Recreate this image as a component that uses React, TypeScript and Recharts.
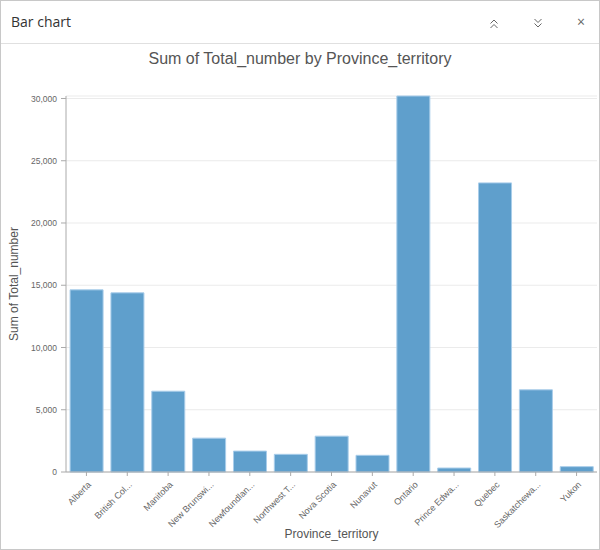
import React from 'react';
import { BarChart, Bar, XAxis, YAxis, CartesianGrid } from 'recharts';

const provinces = [
    'Alberta',
    'British Columbia',
    'Manitoba',
    'New Brunswick',
    'Newfoundland and Labrador',
    'Northwest Territories',
    'Nova Scotia',
    'Nunavut',
    'Ontario',
    'Prince Edward Island',
    'Quebec',
    'Saskatchewan',
    'Yukon',
];
const totals = [14630, 14390, 6490, 2720, 1680, 1420, 2880, 1340, 30200, 320, 23220, 6600, 430];
const yTicks = [0, 5000, 10000, 15000, 20000, 25000, 30000];

const chartData = provinces.map((p, i) => ({ province: p, total: totals[i] }));

// long names are cut to 11 chars like the original widget does
const shorten = (s: string) => (s.length > 11 ? s.slice(0, 11) + '...' : s);

const XTick = ({ x, y, payload }: any) => (
    <g transform={`translate(${x + 3},${y + 5})`}>
        <text x={0} y={0} dy="0.35em" textAnchor="end" transform="rotate(-45)" fontSize={9} fill="#666">
            {shorten(payload.value)}
        </text>
    </g>
);

const Chevrons = ({ up }: { up: boolean }) => (
    <svg width="10" height="12" viewBox="0 0 10 12">
        <path
            d={up ? 'M1.5 5.5 L5 2 L8.5 5.5 M1.5 10 L5 6.5 L8.5 10' : 'M1.5 2 L5 5.5 L8.5 2 M1.5 6.5 L5 10 L8.5 6.5'}
            fill="none"
            stroke="#666"
            strokeWidth="1"
        />
    </svg>
);

export default function App() {
    return (
        <div
            style={{
                position: 'absolute',
                left: 0,
                top: 0,
                width: 600,
                height: 550,
                background: '#fff',
                fontFamily: '"Liberation Sans", Arial, sans-serif',
            }}
        >
            <BarChart
                width={600}
                height={550}
                data={chartData}
                margin={{ top: 96, right: 3, bottom: 0, left: 0 }}
                barCategoryGap="10%"
            >
                <CartesianGrid vertical={false} stroke="#ebebeb" />
                <XAxis
                    dataKey="province"
                    interval={0}
                    height={78}
                    tick={<XTick />}
                    tickSize={4}
                    axisLine={{ stroke: '#aaa' }}
                    tickLine={{ stroke: '#aaa' }}
                    label={{ value: 'Province_territory', position: 'insideBottom', offset: 12, fontSize: 12, fill: '#555' }}
                />
                <YAxis
                    width={66}
                    domain={[0, 30000]}
                    ticks={yTicks}
                    tickSize={5}
                    tickMargin={4}
                    tick={{ fontSize: 8.5, fill: '#666' }}
                    tickFormatter={(v: number) => v.toLocaleString('en-US')}
                    axisLine={{ stroke: '#aaa' }}
                    tickLine={{ stroke: '#aaa' }}
                    label={{ value: 'Sum of Total_number', angle: -90, position: 'center', dx: -19, fontSize: 12, fill: '#555' }}
                />
                <Bar dataKey="total" fill="#5f9fcc" stroke="#a9cdea" strokeWidth={1} isAnimationActive={false} />
            </BarChart>

            <div style={{ position: 'absolute', left: 11, top: 12, fontSize: 14, color: '#333', fontFamily: '"Open Sans", sans-serif' }}>
                Bar chart
            </div>
            <div style={{ position: 'absolute', left: 489, top: 16 }}>
                <Chevrons up />
            </div>
            <div style={{ position: 'absolute', left: 533, top: 15 }}>
                <Chevrons up={false} />
            </div>
            <div style={{ position: 'absolute', left: 577, top: 12, fontSize: 14, color: '#666', fontFamily: '"Open Sans", sans-serif' }}>
                ×
            </div>
            <div style={{ position: 'absolute', left: 0, top: 43, width: 600, height: 1, background: '#e0e0e0' }} />
            <div
                style={{
                    position: 'absolute',
                    left: 0,
                    top: 50,
                    width: 600,
                    textAlign: 'center',
                    fontSize: 16,
                    color: '#555',
                }}
            >
                Sum of Total_number by Province_territory
            </div>
            <div
                style={{
                    position: 'absolute',
                    left: 0,
                    top: 0,
                    width: 600,
                    height: 550,
                    boxSizing: 'border-box',
                    border: '1px solid #c8c8c8',
                    pointerEvents: 'none',
                }}
            />
        </div>
    );
}
